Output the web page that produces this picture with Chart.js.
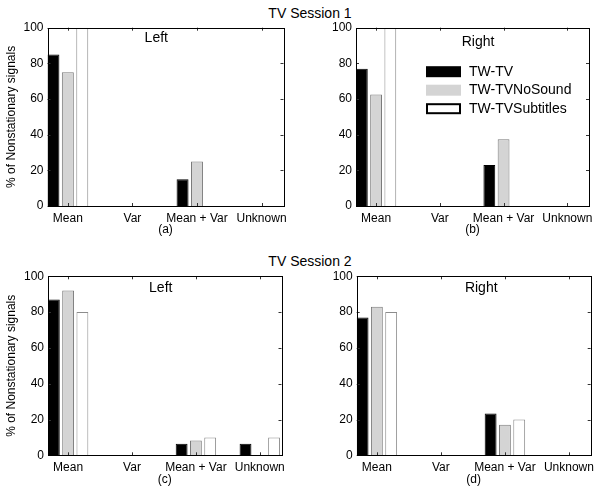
<!DOCTYPE html>
<html>
<head>
<meta charset="utf-8">
<script src="https://cdn.jsdelivr.net/npm/chart.js@4.4.1/dist/chart.umd.min.js"></script>
<style>
  body { margin: 0; background: #fff; }
  #page { position: relative; width: 601px; height: 494px; font-family: "Liberation Sans", Arial, sans-serif; }
  .panel { position: absolute; }
  .title { position: absolute; width: 200px; text-align: center; font-size: 14px; line-height: 14px; color: #000; }
</style>
</head>
<body>
<div id="page">
  <div class="title" style="left:210px; top:6px;">TV Session 1</div>
  <div class="title" style="left:210px; top:254px;">TV Session 2</div>
  <div class="panel" style="left:0; top:0; width:300px; height:247px;"><canvas id="pa"></canvas></div>
  <div class="panel" style="left:300px; top:0; width:301px; height:247px;"><canvas id="pb"></canvas></div>
  <div class="panel" style="left:0; top:247px; width:300px; height:247px;"><canvas id="pc"></canvas></div>
  <div class="panel" style="left:300px; top:247px; width:301px; height:247px;"><canvas id="pd"></canvas></div>
</div>
<script>
const categories = ['Mean', 'Var', 'Mean + Var', 'Unknown'];
const seriesNames = ['TW-TV', 'TW-TVNoSound', 'TW-TVSubtitles'];
const yTicks = [0, 20, 40, 60, 80, 100];

// TV session 1
const s1LeftTV = [85, 0, 15, 0];
const s1LeftNoSound = [75, 0, 25, 0];
const s1LeftSubtitles = [100, 0, 0, 0];
const s1RightTV = [77, 0, 23, 0];
const s1RightNoSound = [62.5, 0, 37.5, 0];
const s1RightSubtitles = [100, 0, 0, 0];

// TV session 2
const s2LeftTV = [87, 0, 6.5, 6.5];
const s2LeftNoSound = [92, 0, 8.3, 0];
const s2LeftSubtitles = [80, 0, 10, 10];
const s2RightTV = [77, 0, 23.3, 0];
const s2RightNoSound = [83, 0, 17, 0];
const s2RightSubtitles = [80, 0, 20, 0];

Chart.defaults.font.family = '"Liberation Sans", Arial, sans-serif';
Chart.defaults.font.size = 12;
Chart.defaults.color = '#000';

const fills = ['#000000', '#d4d4d4', '#ffffff'];
const edges = ['#000000', '#7a7a7a', '#8c8c8c'];

// frame, inward ticks, panel label and the legend box
const decor = {
  id: 'decor',
  afterDatasetsDraw(chart, args, opts) {
    const {ctx, chartArea: a, scales: {x, y}} = chart;
    ctx.save();
    ctx.strokeStyle = '#333';
    ctx.lineWidth = 1;
    ctx.beginPath();
    x.ticks.forEach(t => {
      const px = Math.round(x.getPixelForValue(t.value)) + 0.5;
      ctx.moveTo(px, a.top); ctx.lineTo(px, a.top + 3);
      ctx.moveTo(px, a.bottom); ctx.lineTo(px, a.bottom - 3);
    });
    y.ticks.forEach(t => {
      const py = Math.round(y.getPixelForValue(t.value)) + 0.5;
      ctx.moveTo(a.left, py); ctx.lineTo(a.left + 3, py);
      ctx.moveTo(a.right, py); ctx.lineTo(a.right - 3, py);
    });
    ctx.stroke();

    ctx.strokeStyle = '#000';
    ctx.strokeRect(Math.round(a.left) + 0.5, Math.round(a.top) + 0.5,
                   Math.round(a.right) - Math.round(a.left), Math.round(a.bottom) - Math.round(a.top));

    ctx.fillStyle = '#000';
    ctx.font = '14px "Liberation Sans", Arial, sans-serif';
    ctx.textAlign = 'center';
    ctx.textBaseline = 'middle';
    ctx.fillText(opts.text, x.getPixelForValue(opts.at[0]), y.getPixelForValue(opts.at[1]));

    if (opts.legend) {
      const rows = [44, 62.5, 81];
      ctx.textAlign = 'left';
      chart.data.datasets.forEach((ds, k) => {
        const cy = a.top + rows[k];
        const sx = a.left + 70;
        ctx.fillStyle = ds.backgroundColor;
        ctx.fillRect(sx, cy - 5.5, 35, 11);
        if (k === 2) {
          ctx.strokeStyle = '#000';
          ctx.lineWidth = 2;
          ctx.strokeRect(sx + 1, cy - 4.5, 33, 9);
        }
        ctx.fillStyle = '#000';
        ctx.fillText(ds.label, a.left + 113, cy);
      });
    }
    ctx.restore();
  }
};

function panel(id, series, cfg) {
  new Chart(document.getElementById(id), {
    type: 'bar',
    data: {
      datasets: series.map((vals, k) => ({
        label: seriesNames[k],
        data: vals.map((v, i) => ({x: i + 1, y: v})),
        backgroundColor: fills[k],
        borderColor: edges[k],
        borderWidth: 1,
        categoryPercentage: 0.67,
        barPercentage: 0.83
      }))
    },
    options: {
      responsive: true,
      maintainAspectRatio: false,
      animation: false,
      layout: {padding: {top: cfg.top, right: cfg.right, bottom: cfg.bottom, left: 0}},
      plugins: {
        legend: {display: false},
        tooltip: {enabled: false},
        decor: {text: cfg.text, at: cfg.at, legend: cfg.legend}
      },
      scales: {
        x: {
          type: 'linear', min: 0.685, max: 4.34, offset: false,
          grid: {display: false, drawTicks: false},
          border: {display: false},
          afterBuildTicks: s => { s.ticks = categories.map((c, i) => ({value: i + 1})); },
          afterFit: s => { s.height = 35.2; },
          ticks: {callback: v => categories[v - 1], padding: 5, maxRotation: 0, autoSkip: false},
          title: {display: true, text: cfg.sub, font: {size: 12}}
        },
        y: {
          min: 0, max: 100,
          grid: {display: false, drawTicks: false},
          border: {display: false},
          afterBuildTicks: s => { s.ticks = yTicks.map(v => ({value: v})); },
          afterFit: s => { s.width = cfg.yw; },
          ticks: {padding: 4},
          title: {display: cfg.ytitle, text: '% of Nonstationary signals', font: {size: 12}}
        }
      }
    },
    plugins: [decor]
  });
}

panel('pa', [s1LeftTV, s1LeftNoSound, s1LeftSubtitles],
  {top: 27.7, right: 16.5, bottom: 5.8, yw: 47.5, ytitle: true, sub: '(a)', text: 'Left', at: [2.37, 94.2]});
panel('pb', [s1RightTV, s1RightNoSound, s1RightSubtitles],
  {top: 27.7, right: 12, bottom: 5.8, yw: 56, ytitle: false, sub: '(b)', text: 'Right', at: [2.6, 92], legend: true});
panel('pc', [s2LeftTV, s2LeftNoSound, s2LeftSubtitles],
  {top: 29.3, right: 18.5, bottom: 3.5, yw: 48, ytitle: true, sub: '(c)', text: 'Left', at: [2.45, 93.5]});
panel('pd', [s2RightTV, s2RightNoSound, s2RightSubtitles],
  {top: 29.3, right: 10.3, bottom: 3.5, yw: 56.7, ytitle: false, sub: '(d)', text: 'Right', at: [2.63, 93.2]});
</script>
</body>
</html>
